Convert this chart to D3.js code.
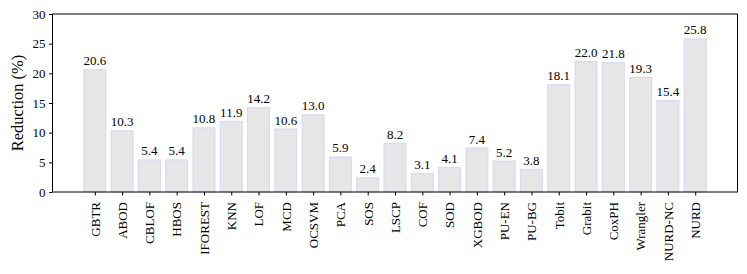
<!DOCTYPE html>
<html><head><meta charset="utf-8">
<script src="https://cdn.jsdelivr.net/npm/d3@7"></script>
<style>body{margin:0;background:#fff}svg{display:block}</style>
</head><body><svg id="c" width="747" height="274"></svg>
<script>
const categories = ["GBTR","ABOD","CBLOF","HBOS","IFOREST","KNN","LOF","MCD","OCSVM","PCA","SOS","LSCP","COF","SOD","XGBOD","PU-EN","PU-BG","Tobit","Grabit","CoxPH","Wrangler","NURD-NC","NURD"];
const values = [20.6,10.3,5.4,5.4,10.8,11.9,14.2,10.6,13.0,5.9,2.4,8.2,3.1,4.1,7.4,5.2,3.8,18.1,22.0,21.8,19.3,15.4,25.8];
const yTicks = [0,5,10,15,20,25,30];

const FONT = "'Liberation Serif', 'Times New Roman', serif";
const svg = d3.select("#c");
const L = 52.5, R = 737.5, T = 14, B = 192;
const n = categories.length;
const x = d3.scaleLinear().domain([-1.55, n - 1 + 1.55]).range([L, R]);
const y = d3.scaleLinear().domain([0, 30]).range([B, T]);
const bw = (x(1) - x(0)) * 0.8;

svg.append("g").selectAll("rect").data(values).join("rect")
  .attr("x", (d, i) => x(i) - bw / 2).attr("width", bw)
  .attr("y", d => y(d)).attr("height", d => B - y(d))
  .attr("fill", "#e6e6e6").attr("stroke", "#d9d9f3").attr("stroke-width", 1.2);

svg.append("g").selectAll("text").data(values).join("text")
  .attr("x", (d, i) => x(i)).attr("y", d => y(d) - 4.5)
  .attr("text-anchor", "middle").attr("font-size", 13).attr("font-family", FONT)
  .text(d => d.toFixed(1));

// frame
svg.append("rect").attr("x", L).attr("y", T).attr("width", R - L).attr("height", B - T)
  .attr("fill", "none").attr("stroke", "#000").attr("stroke-width", 1);

const yAxis = d3.axisLeft(y).tickValues(yTicks).tickSize(3.5).tickPadding(3.5).tickFormat(d3.format("d"));
const gy = svg.append("g").attr("transform", `translate(${L},0)`).call(yAxis);
gy.select(".domain").remove();
gy.selectAll("text").attr("font-size", 13).attr("font-family", FONT).attr("fill", "#000");

const xAxis = d3.axisBottom(x).tickValues(d3.range(n)).tickSize(3.5).tickPadding(3).tickFormat(i => categories[i]);
const gx = svg.append("g").attr("transform", `translate(0,${B})`).call(xAxis);
gx.select(".domain").remove();
gx.selectAll("text").attr("font-size", 13).attr("font-family", FONT).attr("fill", "#000")
  .attr("text-anchor", "end").attr("dy", "0.33em")
  .attr("transform", "translate(0,6) rotate(-90)")
  .attr("x", -4).attr("y", 0);

svg.append("text").attr("transform", `translate(17,${(T + B) / 2}) rotate(-90)`)
  .attr("text-anchor", "middle").attr("dy", "0.35em").attr("font-size", 16.5).attr("font-family", FONT)
  .attr("fill", "#000")
  .text("Reduction (%)");
</script></body></html>
